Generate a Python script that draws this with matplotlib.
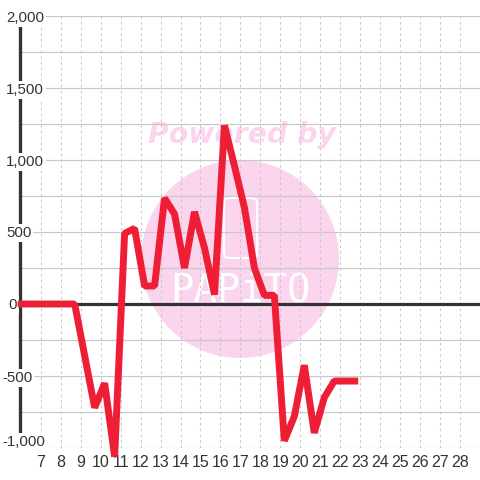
import matplotlib
matplotlib.use("Agg")
import matplotlib.pyplot as plt
from matplotlib.patches import Circle, FancyBboxPatch

plt.rcParams['font.family'] = ['Liberation Sans', 'DejaVu Sans']

x_ticks = list(range(7, 29))
y_ticks = [-1000, -500, 0, 500, 1000, 1500, 2000]
y_labels = ['-1,000', '-500', '0', '500', '1,000', '1,500', '2,000']
y_minor = [-750, -250, 250, 750, 1250, 1750]
series_x = [5.85, 8.7, 9.7, 10.2, 10.7, 11.2, 11.7, 12.2, 12.7, 13.2, 13.7, 14.2, 14.7,
            15.2, 15.7, 16.2, 16.7, 17.2, 17.7, 18.2, 18.7, 19.2, 19.7, 20.2, 20.7,
            21.2, 21.7, 22.2, 22.9]
series_y = [0, 0, -720, -550, -1060, 490, 525, 125, 125, 735, 625, 250, 640,
            390, 65, 1240, 960, 670, 250, 60, 60, -950, -780, -425, -895,
            -650, -535, -535, -535]

fig = plt.figure(figsize=(4.8, 4.8), dpi=100)
fig.patch.set_facecolor('white')
# axes box: px x 20..480, y 16..448
ax = fig.add_axes([20/480, (480-448)/480, 460/480, 432/480])
ax.set_xlim(5.96, 29)
ax.set_ylim(-1000, 2000)
for s in ax.spines.values():
    s.set_visible(False)
ax.set_facecolor('none')

grid = '#c8c8c8'
for v in y_ticks + y_minor:
    ax.axhline(v, color=grid, lw=0.85, zorder=1)
for v in x_ticks:
    ax.axvline(v, color=grid, lw=0.75, ls=(0, (2.5, 3)), zorder=1)

# watermark, in pixel coordinates of the figure
pink = '#f9bbe3'
def px(x, y):
    return (x, 480 - y)
circle = Circle(px(240, 259), 99, transform=None, facecolor=pink, alpha=0.62,
                edgecolor='none', zorder=2)
fig.add_artist(circle)
ax.set_zorder(3)
fig.text(242/480, 1-135/480, 'Powered by', color=pink, alpha=0.62, fontsize=20.4,
         fontweight='bold', fontstyle='italic', ha='center', va='center',
         family='DejaVu Sans', zorder=2)
fig.add_artist(FancyBboxPatch(px(224, 258), 33, 60, boxstyle='round,pad=0,rounding_size=5',
                              transform=None, facecolor='none', edgecolor='white', lw=1.6, zorder=2.5))
fig.text(240/480, 1-291/480, 'PAPiTO', color='white', fontsize=28, ha='center', va='center',
         family='DejaVu Sans Mono', zorder=2.5)

ax.axhline(0, color='#333333', lw=2.3, zorder=4)
ax.plot([0, 0], [0, 1], transform=ax.transAxes, color='#333333', lw=2.4,
        solid_capstyle='butt', zorder=4, clip_on=False)

ax.plot(series_x, series_y, color='#ee1f35', lw=5.0, solid_joinstyle='bevel',
        solid_capstyle='butt', zorder=5, clip_on=False)

ax.set_xticks(x_ticks)
ax.set_yticks([])
ax.tick_params(axis='x', length=0, pad=5, labelsize=11.5, labelcolor='#333333')

offs = {'-1,000': (-18, 6), '-500': (-18, -2), '0': (-12, -1), '500': (-14, -1),
        '1,000': (-14, -2), '1,500': (-14, -2), '2,000': (-14, -2)}
for v, lab in zip(y_ticks, y_labels):
    ax.annotate(lab, xy=(0, v), xycoords=ax.get_yaxis_transform(),
                xytext=offs[lab], textcoords='offset pixels', ha='left', va='center',
                fontsize=10.8, color='#333333', zorder=4.5, annotation_clip=False,
                bbox=dict(facecolor='white', edgecolor='none', pad=1.5))

fig.savefig('out.png', dpi=100)
